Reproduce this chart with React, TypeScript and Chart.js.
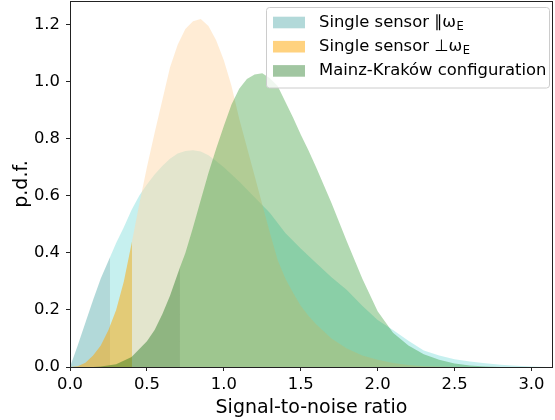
import React, { useEffect, useRef } from "react";
import { Chart, registerables } from "chart.js";

Chart.register(...registerables);

// ---- data ----
const tealX = [0, 0.05, 0.1, 0.15, 0.2, 0.26, 0.3, 0.35, 0.4, 0.45, 0.5, 0.55, 0.6, 0.65, 0.7, 0.75, 0.8, 0.85, 0.9, 0.95, 1.0, 1.1, 1.2, 1.3, 1.4, 1.5, 1.6, 1.7, 1.8, 1.9, 2.0, 2.1, 2.2, 2.3, 2.4, 2.5, 2.6, 2.7, 2.8, 2.9, 3.0, 3.1];
const tealY = [0, 0.075, 0.155, 0.235, 0.31, 0.385, 0.435, 0.49, 0.55, 0.6, 0.64, 0.675, 0.705, 0.73, 0.748, 0.757, 0.76, 0.755, 0.742, 0.722, 0.7, 0.65, 0.595, 0.54, 0.47, 0.415, 0.365, 0.315, 0.27, 0.215, 0.165, 0.13, 0.092, 0.058, 0.04, 0.027, 0.019, 0.013, 0.008, 0.004, 0.002, 0];

const orangeX = [0, 0.05, 0.1, 0.15, 0.2, 0.25, 0.3, 0.35, 0.403, 0.45, 0.5, 0.55, 0.6, 0.65, 0.7, 0.75, 0.8, 0.85, 0.9, 0.95, 1.0, 1.05, 1.1, 1.15, 1.2, 1.25, 1.3, 1.35, 1.4, 1.45, 1.5, 1.55, 1.6, 1.7, 1.8, 1.9, 2.0, 2.1, 2.2, 2.3, 2.5];
const orangeY = [0, 0.003, 0.015, 0.04, 0.075, 0.13, 0.2, 0.3, 0.44, 0.57, 0.7, 0.82, 0.935, 1.05, 1.13, 1.185, 1.212, 1.22, 1.195, 1.145, 1.075, 0.985, 0.87, 0.77, 0.67, 0.57, 0.47, 0.375, 0.31, 0.26, 0.215, 0.18, 0.15, 0.1, 0.065, 0.04, 0.025, 0.014, 0.007, 0.003, 0];

const greenX = [0.15, 0.2, 0.3, 0.4, 0.5, 0.55, 0.6, 0.65, 0.715, 0.75, 0.8, 0.85, 0.9, 0.95, 1.0, 1.05, 1.1, 1.15, 1.2, 1.25, 1.3, 1.35, 1.4, 1.45, 1.5, 1.55, 1.6, 1.7, 1.8, 1.9, 2.0, 2.1, 2.2, 2.3, 2.4, 2.5, 2.6, 2.7, 2.8];
const greenY = [0, 0.002, 0.01, 0.035, 0.09, 0.13, 0.185, 0.25, 0.35, 0.4, 0.49, 0.585, 0.68, 0.765, 0.845, 0.92, 0.975, 1.01, 1.025, 1.03, 1.012, 0.985, 0.93, 0.875, 0.815, 0.76, 0.7, 0.575, 0.44, 0.31, 0.195, 0.12, 0.075, 0.045, 0.025, 0.012, 0.005, 0.002, 0];

const tealCut = 0.26;
const orangeCut = 0.403;
const greenCut = 0.715;

const xTicks = [0, 0.5, 1.0, 1.5, 2.0, 2.5, 3.0];
const yTicks = [0, 0.2, 0.4, 0.6, 0.8, 1.0, 1.2];

const legendLabels = [
  { main: "Single sensor \u2225\u03c9", sub: "E" },
  { main: "Single sensor \u22a5\u03c9", sub: "E" },
  { main: "Mainz-Krak\u00f3w configuration", sub: "" },
];

// ---- styles ----
const FONT = '"DejaVu Sans", "Liberation Sans", sans-serif';
const tealDark = "rgba(0,128,128,0.3)";
const tealLight = "rgba(65,205,202,0.3)";
const orangeDark = "rgba(255,165,0,0.5)";
const orangeLight = "rgba(255,217,171,0.5)";
const greenDark = "rgba(0,100,0,0.37)";
const greenLight = "rgba(0,128,0,0.3)";
const legendColors = [tealDark, orangeDark, greenDark];

function part(xs: number[], ys: number[], cut: number, below: boolean) {
  const pts: { x: number; y: number }[] = [];
  xs.forEach((x, i) => {
    if (below ? x <= cut : x >= cut) pts.push({ x, y: ys[i] });
  });
  return pts;
}

function ds(data: { x: number; y: number }[], color: string, order: number) {
  return {
    data,
    backgroundColor: color,
    borderColor: "rgba(0,0,0,0)",
    borderWidth: 0,
    pointRadius: 0,
    fill: "origin",
    tension: 0,
    order,
  };
}

const framePlugin = {
  id: "frame",
  afterDraw(chart: any) {
    const { ctx, chartArea } = chart;
    ctx.save();
    ctx.strokeStyle = "#222";
    ctx.lineWidth = 1;
    ctx.strokeRect(
      Math.round(chartArea.left) + 0.5,
      Math.round(chartArea.top) + 0.5,
      Math.round(chartArea.right - chartArea.left) - 1,
      Math.round(chartArea.bottom - chartArea.top)
    );
    ctx.restore();
  },
};

const legendPlugin = {
  id: "customLegend",
  afterDraw(chart: any) {
    const ctx = chart.ctx;
    ctx.save();
    ctx.beginPath();
    const x0 = 266.5, y0 = 7.5, w = 283, h = 80.5;
    if (ctx.roundRect) ctx.roundRect(x0, y0, w, h, 3);
    else ctx.rect(x0, y0, w, h);
    ctx.fillStyle = "rgba(255,255,255,0.8)";
    ctx.fill();
    ctx.strokeStyle = "#cccccc";
    ctx.lineWidth = 1;
    ctx.stroke();
    legendLabels.forEach((lab, i) => {
      const cy = 22.5 + i * 24.2;
      ctx.fillStyle = legendColors[i];
      ctx.fillRect(273, cy - 5.8, 32, 11.6);
      ctx.fillStyle = "#000";
      ctx.font = `16.4px ${FONT}`;
      ctx.textBaseline = "middle";
      ctx.textAlign = "left";
      ctx.fillText(lab.main, 319, cy);
      if (lab.sub) {
        const tw = ctx.measureText(lab.main).width;
        ctx.font = `11.5px ${FONT}`;
        ctx.fillText(lab.sub, 319 + tw + 0.5, cy + 4.5);
      }
    });
    ctx.restore();
  },
};

export default function App() {
  const ref = useRef<HTMLCanvasElement | null>(null);
  useEffect(() => {
    if (!ref.current) return;
    const chart = new Chart(ref.current, {
      type: "line",
      data: {
        datasets: [
          ds(part(greenX, greenY, greenCut, true), greenDark, 0),
          ds(part(greenX, greenY, greenCut, false), greenLight, 1),
          ds(part(orangeX, orangeY, orangeCut, true), orangeDark, 2),
          ds(part(orangeX, orangeY, orangeCut, false), orangeLight, 3),
          ds(part(tealX, tealY, tealCut, true), tealDark, 4),
          ds(part(tealX, tealY, tealCut, false), tealLight, 5),
        ] as any,
      },
      options: {
        responsive: false,
        animation: false,
        events: [],
        layout: { padding: { left: 0, top: 1, right: 2, bottom: 0 } },
        plugins: { legend: { display: false }, tooltip: { enabled: false } },
        scales: {
          x: {
            type: "linear",
            min: 0,
            max: 3.14,
            afterBuildTicks: (s: any) => {
              s.ticks = xTicks.map((v) => ({ value: v }));
            },
            afterFit: (s: any) => {
              s.height = 53;
              s.paddingLeft = 0;
              s.paddingRight = 0;
            },
            ticks: {
              callback: (v: any) => Number(v).toFixed(1),
              font: { family: FONT, size: 16.4 },
              color: "#000",
              padding: 4,
              maxRotation: 0,
              autoSkip: false,
            },
            grid: { drawOnChartArea: false, drawTicks: true, tickLength: 4, tickColor: "#222", tickWidth: 1 },
            border: { display: false },
            title: {
              display: true,
              text: "Signal-to-noise ratio",
              font: { family: FONT, size: 19 },
              color: "#000",
              padding: { top: 0, bottom: 1 },
            },
          },
          y: {
            type: "linear",
            min: 0,
            max: 1.283,
            afterBuildTicks: (s: any) => {
              s.ticks = yTicks.map((v) => ({ value: v }));
            },
            afterFit: (s: any) => {
              s.width = 70;
              s.paddingTop = 0;
              s.paddingBottom = 0;
            },
            ticks: {
              callback: (v: any) => Number(v).toFixed(1),
              font: { family: FONT, size: 16.4 },
              color: "#000",
              padding: 6,
              autoSkip: false,
            },
            grid: { drawOnChartArea: false, drawTicks: true, tickLength: 4, tickColor: "#222", tickWidth: 1 },
            border: { display: false },
            title: {
              display: true,
              text: "p.d.f.",
              font: { family: FONT, size: 19 },
              color: "#000",
              padding: { top: 11, bottom: 0 },
            },
          },
        },
      } as any,
      plugins: [framePlugin, legendPlugin],
    });
    return () => chart.destroy();
  }, []);
  return (
    <div style={{ position: "fixed", left: 0, top: 0, width: 555, height: 420, background: "#fff" }}>
      <canvas ref={ref} width={555} height={420} style={{ display: "block" }} />
    </div>
  );
}
